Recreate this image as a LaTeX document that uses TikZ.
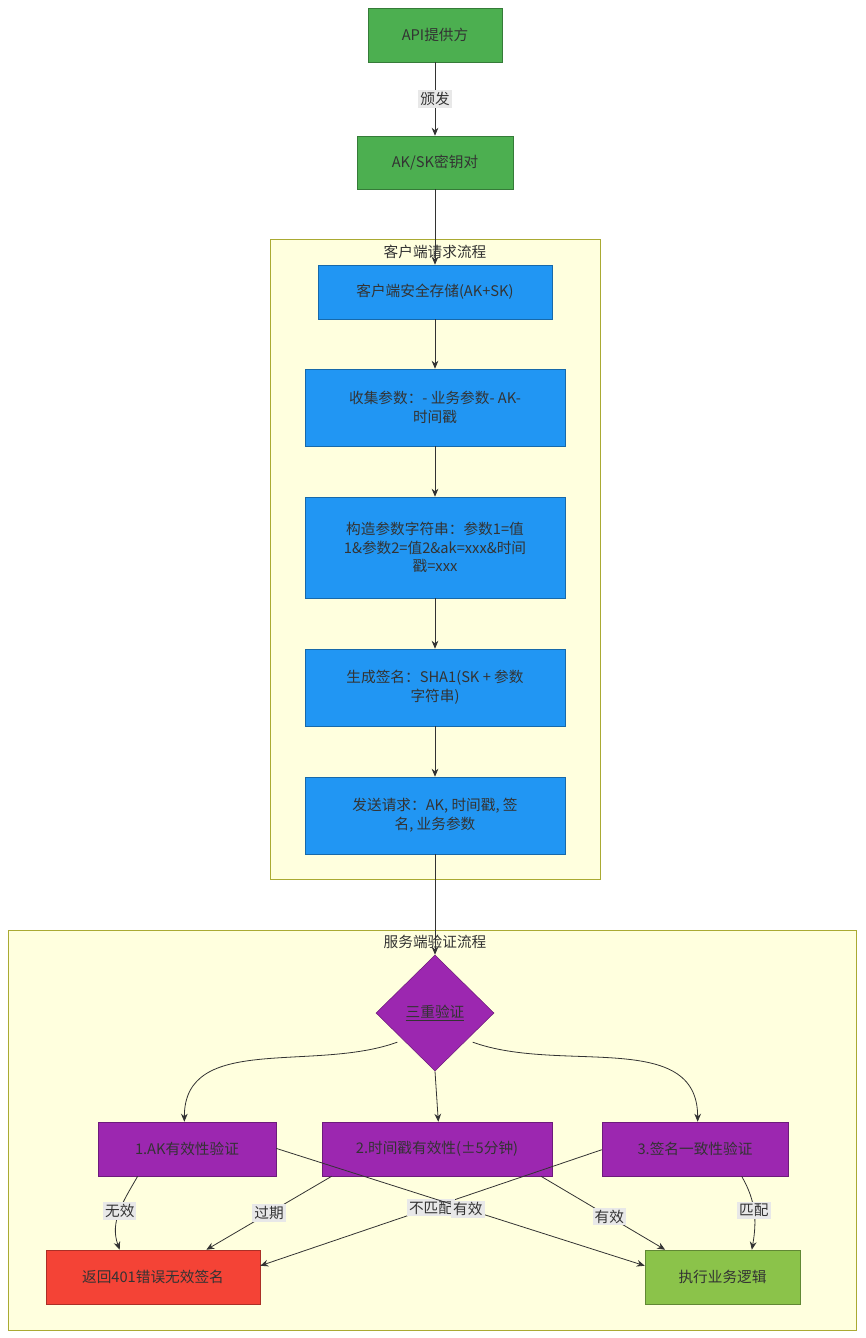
\documentclass[tikz,border=0pt]{standalone}
\usepackage{fontspec}
\setmainfont{Noto Sans CJK SC}
\usetikzlibrary{shapes.geometric,arrows.meta}
\definecolor{tx}{HTML}{333333}
\tikzset{
  box/.style={draw=#1!70!black, fill=#1, rectangle, text=tx, font=\fontsize{11}{14}\selectfont, align=center, inner sep=0pt},
  cl/.style={draw=clb, fill=clf, line width=0.6pt},
  ar/.style={draw=tx, line width=0.6pt, -{Stealth[length=6pt,width=5pt]}},
  lb/.style={fill=lbg, text=tx, font=\fontsize{11}{13}\selectfont, inner sep=1.5pt},
}
\definecolor{gA}{HTML}{4CAF50}
\definecolor{bB}{HTML}{2196F3}
\definecolor{pP}{HTML}{9C27B0}
\definecolor{rR}{HTML}{F44336}
\definecolor{gL}{HTML}{8BC34A}
\definecolor{clf}{HTML}{FFFFDE}
\definecolor{clb}{HTML}{AAAA33}
\definecolor{lbg}{HTML}{E8E8E8}
\begin{document}
\begin{tikzpicture}[x=0.75pt,y=-0.75pt]
\useasboundingbox (0,0) rectangle (865,1338);
\fill[white] (0,0) rectangle (865,1338);
\draw[cl] (270,239) rectangle (600,879);
\node[text=tx,font=\fontsize{11}{13}\selectfont] (t1) at (435,252) {客户端请求流程};
\draw[cl] (8,930) rectangle (856,1330);
\node[text=tx,font=\fontsize{11}{13}\selectfont] (t2) at (435,942) {服务端验证流程};

\node[box=gA, minimum width=134*0.75pt, minimum height=54*0.75pt] (api) at (435,35) {API提供方};
\node[box=gA, minimum width=156*0.75pt, minimum height=53*0.75pt] (ak) at (435,162.5) {AK/SK密钥对};
\node[box=bB, minimum width=234*0.75pt, minimum height=54*0.75pt] (c1) at (435,292) {客户端安全存储(AK+SK)};
\node[box=bB, minimum width=260*0.75pt, minimum height=77*0.75pt] (c2) at (435,407.5) {收集参数：- 业务参数- AK-\\时间戳};
\node[box=bB, minimum width=260*0.75pt, minimum height=101*0.75pt] (c3) at (435,547.5) {构造参数字符串：参数1=值\\1\&参数2=值2\&ak=xxx\&时间\\戳=xxx};
\node[box=bB, minimum width=260*0.75pt, minimum height=77*0.75pt] (c4) at (435,687.5) {生成签名：SHA1(SK + 参数\\字符串)};
\node[box=bB, minimum width=260*0.75pt, minimum height=77*0.75pt] (c5) at (435,815.5) {发送请求：AK, 时间戳, 签\\名, 业务参数};

\node[diamond, draw=pP!70!black, fill=pP, text=tx, font=\fontsize{11}{14}\selectfont, minimum width=118*0.75pt, minimum height=116*0.75pt, inner sep=0pt] (d) at (435,1013) {\underline{三重验证}};
\node[box=pP, minimum width=178*0.75pt, minimum height=54*0.75pt] (v1) at (187,1149) {1.AK有效性验证};
\node[box=pP, minimum width=230*0.75pt, minimum height=54*0.75pt] (v2) at (437,1149) {2.时间戳有效性(±5分钟)};
\node[box=pP, minimum width=186*0.75pt, minimum height=54*0.75pt] (v3) at (695,1149) {3.签名一致性验证};
\node[box=rR, minimum width=214*0.75pt, minimum height=54*0.75pt] (err) at (153,1277) {返回401错误无效签名};
\node[box=gL, minimum width=155*0.75pt, minimum height=54*0.75pt] (ok) at (722.5,1277) {执行业务逻辑};

\draw[ar] (api) -- node[lb] {颁发} (ak);
\draw[ar] (ak) -- (c1);
\draw[ar] (c1) -- (c2);
\draw[ar] (c2) -- (c3);
\draw[ar] (c3) -- (c4);
\draw[ar] (c4) -- (c5);
\draw[ar] (c5) -- (d);
\draw[ar] (d.south west) ++(-8,-0) to[out=200,in=90] ([xshift=-2]v1.north);
\draw[ar] (d.south) -- ([xshift=1]v2.north);
\draw[ar] (d.south east) ++(8,0) to[out=-20,in=90] ([xshift=2]v3.north);

\draw[ar] ([xshift=-37]v1.south) to[out=-120,in=110] node[lb,pos=0.48] {无效} ([xshift=-25]err.north);
\draw[ar] ([xshift=-79]v2.south) -- node[lb,pos=0.5] {过期} ([xshift=40]err.north);
\draw[ar] ([yshift=-21]v3.north west) -- node[lb,pos=0.5] {不匹配} ([yshift=-12]err.north east);
\draw[ar] ([yshift=-20]v1.north east) -- node[lb,pos=0.52] {有效} ([yshift=-12]ok.north west);
\draw[ar] ([xshift=78]v2.south) -- node[lb,pos=0.55] {有效} ([xshift=-43]ok.north);
\draw[ar] ([xshift=35]v3.south) to[out=-60,in=80] node[lb,pos=0.48] {匹配} ([xshift=22]ok.north);
\end{tikzpicture}
\end{document}
